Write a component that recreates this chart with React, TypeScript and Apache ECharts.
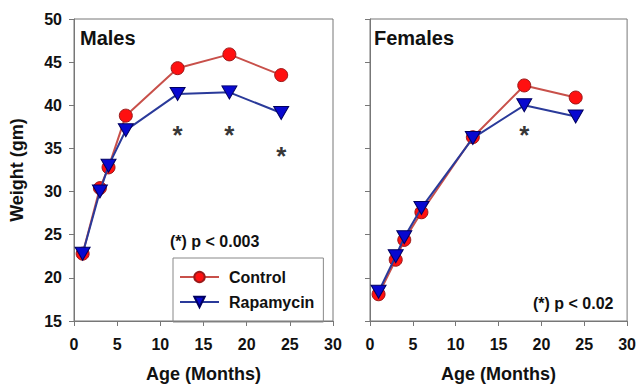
import React, { useEffect, useRef } from "react";
import * as echarts from "echarts";

const ages = [1, 3, 4, 6, 12, 18, 24];
const maleControl = [22.8, 30.4, 32.8, 38.8, 44.3, 45.9, 43.5];
const maleRapamycin = [22.8, 30.0, 33.0, 37.1, 41.3, 41.5, 39.1];
const femaleControl = [18.1, 22.1, 24.4, 27.6, 36.3, 42.3, 40.9];
const femaleRapamycin = [18.4, 22.5, 24.7, 28.1, 36.2, 40.0, 38.7];
const maleStarAges = [12, 18, 24];
const maleStarY = [37.3, 37.3, 34.8];
const femaleStarAges = [18];
const femaleStarY = [37.2];
const xTicks = { min: 0, max: 30, interval: 5 };
const yTicks = { min: 15, max: 50, interval: 5 };

const FONT = "'Liberation Sans', Arial, sans-serif";
const TRI = "path://M0,0 L10,0 L5,8.5 Z";

const pairs = (xs: number[], ys: number[]) => xs.map((x, i) => [x, ys[i]]);

export default function App() {
  const ref = useRef<HTMLDivElement>(null);
  useEffect(() => {
    if (!ref.current) return;
    const chart = echarts.init(ref.current, undefined, { renderer: "svg" });
    const axisLine = { show: true, lineStyle: { color: "#777", width: 1 } };
    const axisTick = { show: true, inside: false, length: 5, lineStyle: { color: "#777" } };
    const labelStyle = { fontFamily: FONT, fontWeight: "bold" as const, fontSize: 16, color: "#111" };
    const nameStyle = { fontFamily: FONT, fontWeight: "bold" as const, fontSize: 18, color: "#111" };
    const xAxisBase = (gridIndex: number) => ({
      type: "value" as const,
      gridIndex,
      ...xTicks,
      axisLine,
      axisTick,
      splitLine: { show: false },
      axisLabel: { ...labelStyle, margin: 15 },
      name: "Age (Months)",
      nameLocation: "middle" as const,
      nameGap: 44,
      nameTextStyle: nameStyle,
    });
    const ctrlSeries = (xi: number, data: number[]) => ({
      type: "line" as const,
      name: "Control",
      xAxisIndex: xi,
      yAxisIndex: xi,
      data: pairs(ages, data),
      symbol: "circle",
      symbolSize: 13,
      lineStyle: { color: "#c8504a", width: 2 },
      itemStyle: { color: "#ff1010", borderColor: "#9a1a1a", borderWidth: 1 },
      z: 3,
    });
    const rapaSeries = (xi: number, data: number[]) => ({
      type: "line" as const,
      name: "Rapamycin",
      xAxisIndex: xi,
      yAxisIndex: xi,
      data: pairs(ages, data),
      symbol: TRI,
      symbolSize: [15, 13],
      lineStyle: { color: "#2a3a9a", width: 2 },
      itemStyle: { color: "#0808d0", borderColor: "#000060", borderWidth: 1 },
      z: 4,
    });
    const starSeries = (xi: number, xs: number[], ys: number[]) => ({
      type: "scatter" as const,
      xAxisIndex: xi,
      yAxisIndex: xi,
      data: pairs(xs, ys),
      symbol: "circle",
      symbolSize: 1,
      itemStyle: { color: "rgba(0,0,0,0)" },
      label: {
        show: true,
        position: "inside" as const,
        formatter: "*",
        fontFamily: FONT,
        fontWeight: "bold" as const,
        fontSize: 26,
        color: "#000",
        offset: [0, 6],
      },
      silent: true,
    });
    chart.setOption({
      animation: false,
      backgroundColor: "#fff",
      grid: [
        { left: 74, top: 19, width: 259, height: 303, show: true, borderColor: "#777", borderWidth: 1 },
        { left: 370, top: 19, width: 259, height: 303, show: true, borderColor: "#777", borderWidth: 1 },
      ],
      xAxis: [xAxisBase(0), xAxisBase(1)],
      yAxis: [
        {
          type: "value",
          gridIndex: 0,
          ...yTicks,
          axisLine,
          axisTick,
          splitLine: { show: false },
          axisLabel: { ...labelStyle, margin: 12 },
          name: "Weight (gm)",
          nameLocation: "middle",
          nameGap: 48,
          nameTextStyle: nameStyle,
        },
        {
          type: "value",
          gridIndex: 1,
          ...yTicks,
          axisLine,
          axisTick,
          splitLine: { show: false },
          axisLabel: { show: false },
        },
      ],
      legend: {
        data: ["Control", "Rapamycin"],
        orient: "vertical",
        left: 173,
        top: 258,
        padding: [11, 9, 12, 6],
        borderColor: "#888",
        borderWidth: 1,
        itemWidth: 39,
        itemHeight: 13,
        itemGap: 9,
        textStyle: { fontFamily: FONT, fontWeight: "bold", fontSize: 16, color: "#111", padding: [0, 0, 0, 5] },
      },
      graphic: [
        { type: "text", left: 80, top: 28, style: { text: "Males", fontFamily: FONT, fontWeight: "bold", fontSize: 20, fill: "#111" } },
        { type: "text", left: 374, top: 28, style: { text: "Females", fontFamily: FONT, fontWeight: "bold", fontSize: 20, fill: "#111" } },
        { type: "text", left: 170, top: 233, style: { text: "(*) p < 0.003", fontFamily: FONT, fontWeight: "bold", fontSize: 16, fill: "#111" } },
        { type: "text", left: 533, top: 295, style: { text: "(*) p < 0.02", fontFamily: FONT, fontWeight: "bold", fontSize: 16, fill: "#111" } },
      ],
      series: [
        ctrlSeries(0, maleControl),
        rapaSeries(0, maleRapamycin),
        ctrlSeries(1, femaleControl),
        rapaSeries(1, femaleRapamycin),
        starSeries(0, maleStarAges, maleStarY),
        starSeries(1, femaleStarAges, femaleStarY),
      ],
    });
    return () => chart.dispose();
  }, []);
  return <div ref={ref} style={{ width: 639, height: 388, position: "absolute", left: 0, top: 0 }} />;
}
